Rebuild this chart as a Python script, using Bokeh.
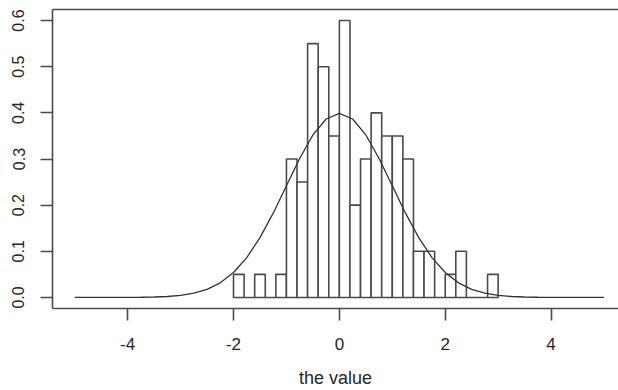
from bokeh.plotting import figure
from bokeh.models import Range1d, FixedTicker, LinearAxis, ColumnDataSource, NumeralTickFormatter
from bokeh.embed import file_html
from bokeh.resources import INLINE

# Histogram (density), bin width 0.2
bin_edges = [-2.0, -1.8, -1.6, -1.4, -1.2, -1.0, -0.8, -0.6, -0.4, -0.2, 0.0,
             0.2, 0.4, 0.6, 0.8, 1.0, 1.2, 1.4, 1.6, 1.8, 2.0, 2.2, 2.4, 2.6, 2.8, 3.0]
density = [0.05, 0.0, 0.05, 0.0, 0.05, 0.30, 0.25, 0.55, 0.50, 0.35,
           0.60, 0.20, 0.30, 0.40, 0.35, 0.35, 0.30, 0.10, 0.10, 0.0,
           0.05, 0.10, 0.0, 0.0, 0.05]

# Overlaid density curve
curve_x = [-5.0, -4.75, -4.5, -4.25, -4.0, -3.75, -3.5, -3.25, -3.0, -2.75, -2.5,
           -2.25, -2.0, -1.75, -1.5, -1.25, -1.0, -0.75, -0.5, -0.25, 0.0,
           0.25, 0.5, 0.75, 1.0, 1.25, 1.5, 1.75, 2.0, 2.25, 2.5,
           2.75, 3.0, 3.25, 3.5, 3.75, 4.0, 4.25, 4.5, 4.75, 5.0]
curve_y = [0.0, 0.0, 0.0, 0.0, 0.0001, 0.0004, 0.0009, 0.0020, 0.0044, 0.0091, 0.0175,
           0.0317, 0.0540, 0.0863, 0.1295, 0.1826, 0.2420, 0.3011, 0.3521, 0.3867, 0.3989,
           0.3867, 0.3521, 0.3011, 0.2420, 0.1826, 0.1295, 0.0863, 0.0540, 0.0317, 0.0175,
           0.0091, 0.0044, 0.0020, 0.0009, 0.0004, 0.0001, 0.0, 0.0, 0.0, 0.0]

x_ticks = [-4, -2, 0, 2, 4]
x_tick_labels = ["-4", "-2", "0", "2", "4"]
y_ticks = [0.0, 0.1, 0.2, 0.3, 0.4, 0.5, 0.6]
x_title = "the value"

FONT = "Liberation Sans"
LINE = "#4a4a4a"
TEXT = "#262626"

p = figure(width=618, height=390, output_backend="svg", toolbar_location=None,
           x_range=Range1d(-5.42, 5.274), y_range=Range1d(-0.024, 0.624),
           min_border_left=52, min_border_right=0, min_border_top=9, min_border_bottom=81,
           x_axis_location="below", y_axis_location="left")
p.background_fill_color = "white"
p.border_fill_color = "white"
p.outline_line_color = None
p.grid.visible = False

src = ColumnDataSource(dict(left=bin_edges[:-1], right=bin_edges[1:], top=density,
                            bottom=[0.0] * len(density)))
p.quad(left="left", right="right", top="top", bottom="bottom", source=src,
       fill_color="white", line_color=LINE, line_width=1.6)
p.line(curve_x, curve_y, line_color="#333333", line_width=1.3)

xa = p.xaxis[0]
xa.ticker = FixedTicker(ticks=x_ticks)
xa.major_label_overrides = {t: s for t, s in zip(x_ticks, x_tick_labels)}
xa.axis_label = x_title
xa.axis_label_text_font = FONT
xa.axis_label_text_font_style = "normal"
xa.axis_label_text_font_size = "18px"
xa.axis_label_text_color = TEXT
xa.axis_label_standoff = 15
xa.major_label_text_font = FONT
xa.major_label_text_font_size = "17px"
xa.major_label_text_color = TEXT
xa.major_label_standoff = 17
xa.major_tick_out = 12
xa.major_tick_in = 0
xa.minor_tick_line_color = None
xa.axis_line_color = LINE
xa.axis_line_width = 1.6
xa.major_tick_line_color = LINE
xa.major_tick_line_width = 1.6

ya = p.yaxis[0]
ya.ticker = FixedTicker(ticks=y_ticks)
ya.formatter = NumeralTickFormatter(format="0.0")
ya.major_label_orientation = "vertical"
ya.major_label_text_font = FONT
ya.major_label_text_font_size = "16px"
ya.major_label_text_color = TEXT
ya.major_label_standoff = 16
ya.major_tick_out = 12
ya.major_tick_in = 0
ya.minor_tick_line_color = None
ya.axis_line_color = LINE
ya.axis_line_width = 1.6
ya.major_tick_line_color = LINE
ya.major_tick_line_width = 1.6

top_axis = LinearAxis(ticker=FixedTicker(ticks=[]), major_label_text_font_size="0px",
                      major_tick_out=0, major_tick_in=0, minor_tick_line_color=None,
                      major_label_standoff=0, axis_line_color=LINE, axis_line_width=1.6)
p.add_layout(top_axis, "above")

open("out.html", "w").write(file_html(p, INLINE))
